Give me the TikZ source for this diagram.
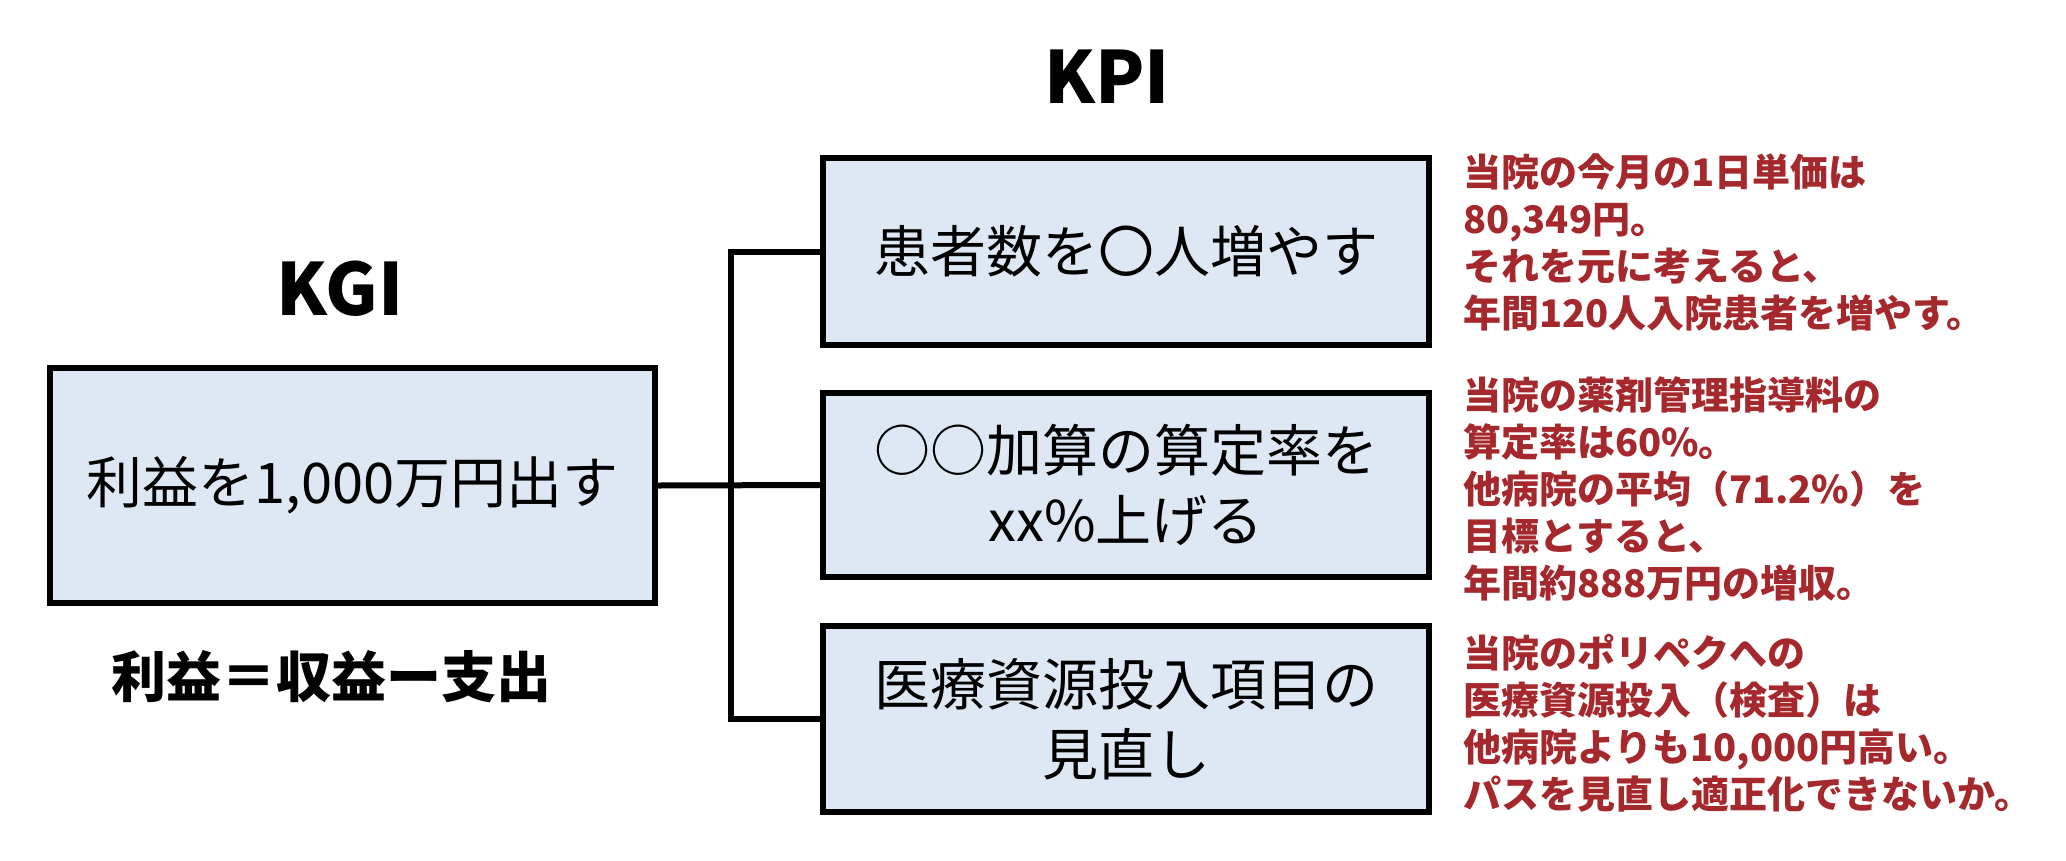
\documentclass[tikz,border=0pt]{standalone}
\usepackage{fontspec}
\setmainfont{Noto Sans CJK JP}
\newfontfamily\jp{Noto Sans CJK JP}
\definecolor{boxfill}{RGB}{222,232,245}
\definecolor{noteRed}{RGB}{165,40,45}
\tikzset{
  goalbox/.style={draw=black, line width=6pt, fill=boxfill, inner sep=0pt, align=center,
    font=\jp\fontsize{56}{70}\selectfont},
  conn/.style={draw=black, line width=6pt},
  title/.style={inner sep=0pt, font=\jp\bfseries\fontsize{72}{80}\selectfont},
  note/.style={inner sep=0pt, anchor=base west, align=left, text=noteRed,
    font=\jp\bfseries\fontsize{38}{47}\selectfont},
}
\begin{document}
\begin{tikzpicture}[x=1pt,y=-1pt]
\useasboundingbox (0,0) rectangle (2066,860);
% titles
\node[title] (kpiT) at (1107,77) {KPI};
\node[title] (kgiT) at (340,289) {KGI};
% KGI box
\node[goalbox, minimum width=605pt, minimum height=235pt] (kgi) at (352.5,485.5) {利益を1,000万円出す};
\node[inner sep=0pt, font=\jp\bfseries\fontsize{55}{60}\selectfont] (eq) at (331,677) {利益＝収益ー支出};
% KPI boxes
\node[goalbox, minimum width=606pt, minimum height=187pt] (k1) at (1126,251.5) {患者数を〇人増やす};
\node[goalbox, minimum width=606pt, minimum height=184pt] (k2) at (1126,485) {○○加算の算定率を\\xx\%上げる};
\node[goalbox, minimum width=606pt, minimum height=186pt] (k3) at (1126,719) {医療資源投入項目の\\見直し};
% connectors
\draw[conn] (kgi.east) -- (k2.west);
\draw[conn] (k1.west) -- ++(-89,0) coordinate (tr) |- (k3.west);
% notes (anchor = baseline of the last line)
\node[note] (n1) at (1463,327) {当院の今月の1日単価は\\80,349円。\\それを元に考えると、\\年間120人入院患者を増やす。};
\node[note] (n2) at (1463,597) {当院の薬剤管理指導料の\\算定率は60\%。\\他病院の平均（71.2\%）を\\目標とすると、\\年間約888万円の増収。};
\node[note] (n3) at (1463,808) {当院のポリペクへの\\医療資源投入（検査）は\\他病院よりも10,000円高い。\\パスを見直し適正化できないか。};
\end{tikzpicture}
\end{document}
